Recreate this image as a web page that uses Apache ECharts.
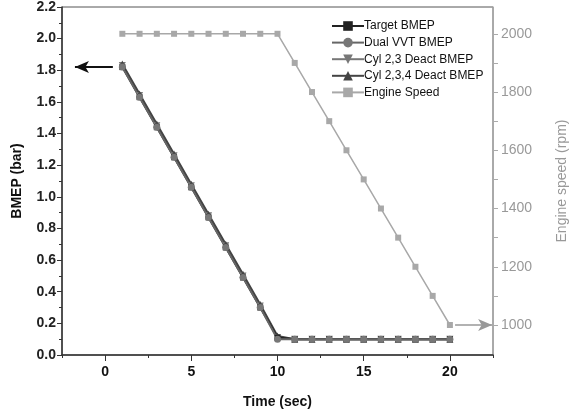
<!DOCTYPE html>
<html>
<head>
<meta charset="utf-8">
<script src="https://cdn.jsdelivr.net/npm/echarts@6/dist/echarts.min.js"></script>
<style>
  html, body { margin: 0; padding: 0; background: #fff; }
  #main { width: 575px; height: 411px; }
</style>
</head>
<body>
<div id="main"></div>
<script>
// data
var time = [1, 2, 3, 4, 5, 6, 7, 8, 9, 10, 11, 12, 13, 14, 15, 16, 17, 18, 19, 20];
var targetBmep = [1.82, 1.63, 1.44, 1.25, 1.06, 0.87, 0.68, 0.49, 0.30, 0.11, 0.10, 0.10, 0.10, 0.10, 0.10, 0.10, 0.10, 0.10, 0.10, 0.10];
var dualVvtBmep = [1.82, 1.63, 1.44, 1.25, 1.06, 0.87, 0.68, 0.49, 0.30, 0.10, 0.10, 0.10, 0.10, 0.10, 0.10, 0.10, 0.10, 0.10, 0.10, 0.10];
var cyl23Bmep = [1.83, 1.64, 1.45, 1.26, 1.07, 0.88, 0.69, 0.50, 0.31, 0.11, 0.10, 0.10, 0.10, 0.10, 0.10, 0.10, 0.10, 0.10, 0.10, 0.10];
var cyl234Bmep = [1.84, 1.65, 1.46, 1.27, 1.08, 0.89, 0.70, 0.51, 0.32, 0.12, 0.10, 0.10, 0.10, 0.10, 0.10, 0.10, 0.10, 0.10, 0.10, 0.10];
var engineSpeed = [2000, 2000, 2000, 2000, 2000, 2000, 2000, 2000, 2000, 2000, 1900, 1800, 1700, 1600, 1500, 1400, 1300, 1200, 1100, 1000];
var xTicks = [0, 5, 10, 15, 20];
var rpmTicks = [1000, 1200, 1400, 1600, 1800, 2000];
var rpmMinorTicks = [1000, 1100, 1200, 1300, 1400, 1500, 1600, 1700, 1800, 1900, 2000];

function pairs(ys) {
    return time.map(function (t, i) { return [t, ys[i]]; });
}

var font = 'Liberation Sans, Arial, sans-serif';

var myChart = echarts.init(document.getElementById('main'));

var option = {
    animation: false,
    backgroundColor: '#fff',
    grid: {
        left: 62, right: 82, top: 7, bottom: 56,
        outerBoundsMode: 'none',
        containLabel: false,
        show: true, borderColor: '#555', borderWidth: 1
    },
    legend: {
        orient: 'vertical',
        left: 326, top: 15,
        itemWidth: 32, itemHeight: 12, itemGap: 4.6,
        textStyle: { fontFamily: font, fontSize: 12, color: '#111', padding: [0, 0, 0, -5] },
        data: ['Target BMEP', 'Dual VVT BMEP', 'Cyl 2,3 Deact BMEP', 'Cyl 2,3,4 Deact BMEP', 'Engine Speed']
    },
    xAxis: [{
        type: 'value',
        min: -2.5, max: 22.5,
        name: 'Time (sec)',
        nameLocation: 'middle',
        nameGap: 40,
        nameTextStyle: { fontFamily: font, fontSize: 14, fontWeight: 'bold', color: '#111' },
        axisLine: { onZero: false, lineStyle: { color: '#333', width: 1.5 } },
        axisTick: { show: true, length: 6, customValues: xTicks, lineStyle: { color: '#333' } },
        axisLabel: { customValues: xTicks, margin: 10, fontFamily: font, fontSize: 14, fontWeight: 'bold', color: '#111' },
        splitLine: { show: false }
    }, {
        type: 'value',
        position: 'bottom',
        min: -2.5, max: 22.5, interval: 2.5,
        axisLine: { show: false, onZero: false },
        axisTick: { show: true, length: 3, lineStyle: { color: '#333' } },
        axisLabel: { show: false },
        splitLine: { show: false }
    }],
    yAxis: [{
        type: 'value',
        min: 0, max: 2.2, interval: 0.2,
        name: 'BMEP (bar)',
        nameLocation: 'middle',
        nameGap: 38,
        nameTextStyle: { fontFamily: font, fontSize: 14, fontWeight: 'bold', color: '#111' },
        axisLine: { show: true, onZero: false, lineStyle: { color: '#333', width: 1.5 } },
        axisTick: { show: true, length: 5, lineStyle: { color: '#333' } },
        minorTick: { show: true, splitNumber: 2, length: 3, lineStyle: { color: '#333' } },
        axisLabel: {
            fontFamily: font, fontSize: 14, fontWeight: 'bold', color: '#222', margin: 6,
            formatter: function (v) { return v.toFixed(1); }
        },
        splitLine: { show: false }
    }, {
        type: 'value',
        min: 897, max: 2092,
        position: 'right',
        name: 'Engine speed (rpm)',
        nameLocation: 'middle',
        nameGap: 62,
        nameRotate: 90,
        nameTextStyle: { fontFamily: font, fontSize: 14, color: '#999' },
        axisLine: { show: true, onZero: false, lineStyle: { color: '#aaa', width: 1.5 } },
        axisTick: { show: true, length: 5, customValues: rpmMinorTicks, lineStyle: { color: '#aaa' } },
        axisLabel: {
            customValues: rpmTicks, fontFamily: font, fontSize: 14, color: '#999', margin: 8,
            formatter: function (v) { return String(v); }
        },
        splitLine: { show: false }
    }],
    series: [{
        name: 'Engine Speed',
        type: 'line',
        yAxisIndex: 1,
        data: pairs(engineSpeed),
        symbol: 'rect', symbolSize: 6,
        itemStyle: { color: '#a8a8a8' },
        lineStyle: { color: '#a8a8a8', width: 1.5 },
        markLine: {
            silent: true,
            symbol: ['none', 'arrow'],
            symbolSize: [9, 14],
            label: { show: false },
            lineStyle: { color: '#999', width: 1.5, type: 'solid' },
            data: [[{ coord: [20.3, 1000] }, { coord: [22.45, 1000] }]]
        }
    }, {
        name: 'Cyl 2,3 Deact BMEP',
        type: 'line',
        data: pairs(cyl23Bmep),
        symbol: 'triangle', symbolRotate: 180, symbolSize: 7,
        itemStyle: { color: '#777' },
        lineStyle: { color: '#777', width: 2 }
    }, {
        name: 'Cyl 2,3,4 Deact BMEP',
        type: 'line',
        data: pairs(cyl234Bmep),
        symbol: 'triangle', symbolSize: 7,
        itemStyle: { color: '#444' },
        lineStyle: { color: '#444', width: 2 }
    }, {
        name: 'Target BMEP',
        type: 'line',
        data: pairs(targetBmep),
        symbol: 'rect', symbolSize: 6,
        itemStyle: { color: '#222' },
        lineStyle: { color: '#222', width: 2 },
        markLine: {
            silent: true,
            symbol: ['none', 'arrow'],
            symbolSize: [9, 14],
            label: { show: false },
            lineStyle: { color: '#111', width: 2, type: 'solid' },
            data: [[{ coord: [0.45, 1.82] }, { coord: [-1.75, 1.82] }]]
        }
    }, {
        name: 'Dual VVT BMEP',
        type: 'line',
        data: pairs(dualVvtBmep),
        symbol: 'circle', symbolSize: 7,
        itemStyle: { color: '#777' },
        lineStyle: { color: '#666', width: 2 }
    }]
};

myChart.setOption(option);
</script>
</body>
</html>
